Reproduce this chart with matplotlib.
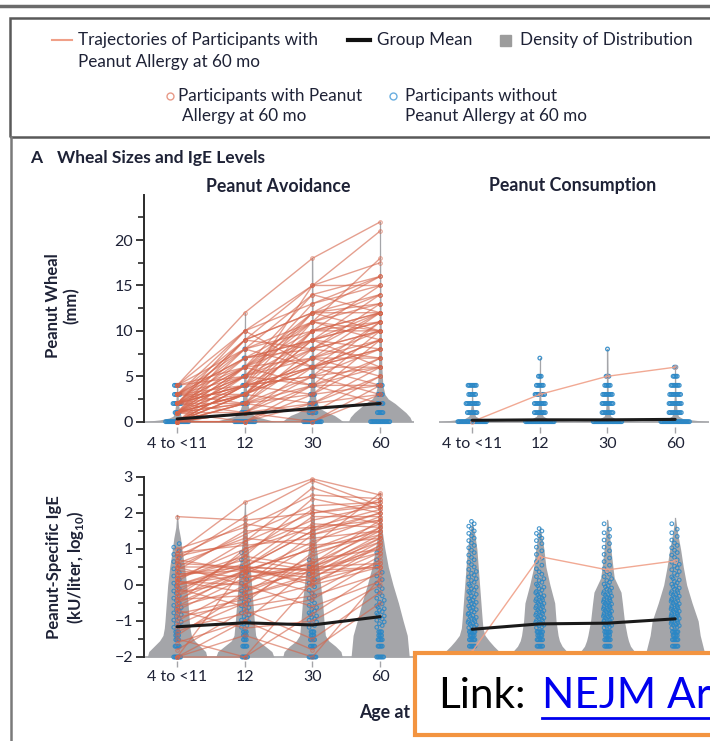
import matplotlib.pyplot as plt
import numpy as np
from matplotlib.patches import Rectangle
from matplotlib.lines import Line2D

plt.rcParams['font.family'] = ['Lato', 'DejaVu Sans']
plt.rcParams['mathtext.fontset'] = 'custom'
plt.rcParams['mathtext.rm'] = 'Lato'
plt.rcParams['mathtext.bf'] = 'Lato:bold'

# ---- data ----
visits = ['4 to <11', '12', '30', '60']

# wheal (mm) trajectories, allergic participants, avoidance group
wheal_avoid = [
    [4, 12, 18, 22], [2, 9, 15, 21], [3, 10, 15, 17.5], [1, 5, 11, 18],
    [2, 8, 14, 16], [3, 6, 12, 16], [0, 4, 15, 15], [4, 10, 13, 15],
    [1, 3, 10, 15], [2, 9, 12, 14], [0, 2, 8, 13], [3, 7, 11, 13],
    [1, 6, 9, 12], [2, 5, 12, 12], [0, 3, 7, 12], [4, 8, 10, 12],
    [1, 4, 6, 11], [2, 7, 9, 11], [0, 1, 5, 11], [3, 9, 8, 10],
    [1, 2, 7, 10], [2, 6, 10, 10], [0, 0, 4, 10], [3, 5, 8, 10],
    [1, 8, 11, 9], [2, 4, 6, 9], [0, 2, 3, 9], [4, 6, 7, 9],
    [1, 3, 9, 8], [2, 10, 6, 8], [0, 1, 6, 8], [3, 4, 5, 8],
    [1, 5, 7, 7], [2, 2, 4, 7], [0, 0, 3, 7], [1, 7, 8, 7],
    [3, 3, 6, 6], [0, 4, 5, 6], [2, 1, 2, 6], [1, 6, 4, 6],
    [4, 5, 9, 6], [0, 2, 1, 5], [2, 3, 7, 5], [1, 0, 2, 5],
    [3, 8, 6, 4], [0, 4, 3, 4], [1, 1, 0, 4], [2, 5, 4, 4],
    [0, 3, 2, 3], [1, 2, 5, 3], [0, 0, 0, 3], [2, 4, 12, 10],
    [1, 3, 11, 14], [0, 6, 14, 12], [3, 2, 10, 11], [0, 5, 13, 16],
    [1, 9, 12, 13], [2, 4, 8, 12], [0, 1, 4, 2], [1, 3, 6, 9],
    [2, 6, 11, 10], [0, 3, 9, 11], [1, 4, 10, 12], [3, 7, 9, 14],
]
wheal_cons = [[0, 3, 5, 6]]

# peanut-specific IgE (log10 kU/liter) trajectories
ige_avoid = [
    [1.9, 1.8, 2.0, 2.3], [0.9, 2.3, 2.95, 2.5], [0.7, 1.9, 2.9, 2.2],
    [1.0, 1.6, 2.5, 2.4], [0.5, 1.4, 2.2, 2.3], [0.8, 1.2, 2.7, 2.1],
    [0.2, 1.0, 1.8, 2.2], [-0.2, 0.8, 2.4, 2.0], [0.6, 0.5, 1.5, 2.0],
    [0.0, 0.6, 1.9, 1.9], [-0.5, 0.3, 1.2, 1.9], [0.4, 1.5, 1.6, 1.8],
    [-1.0, 0.0, 1.4, 1.8], [0.3, 0.4, 1.0, 1.7], [-0.3, 0.9, 2.1, 1.7],
    [-2.0, 0.5, 1.7, 1.6], [0.1, -0.2, 0.8, 1.6], [-0.7, 0.2, 0.6, 1.5],
    [0.9, 1.1, 1.3, 1.5], [-1.3, -0.5, 0.9, 1.4], [0.2, 0.7, 0.4, 1.4],
    [-0.4, -0.3, 0.3, 1.3], [0.5, 0.0, 1.1, 1.3], [-1.6, -1.0, 0.5, 1.2],
    [0.7, 0.4, 0.2, 1.2], [-0.1, 0.5, 0.0, 1.1], [-0.8, -0.4, 0.7, 1.0],
    [0.3, 0.5, 0.4, 1.0], [-2.0, -2.0, 0.1, 0.9], [-0.6, -0.1, 0.4, 0.9],
    [0.0, 0.3, -0.2, 0.8], [-1.2, -0.8, -0.4, 0.7], [0.4, 0.2, 0.5, 0.6],
    [-0.9, -0.5, 0.0, 0.5], [-0.3, 0.4, 0.3, 0.5], [-1.5, -2.0, -0.8, 0.4],
    [-0.1, -0.6, -0.3, 0.3], [-2.0, -1.4, -2.0, 0.2], [0.1, 0.0, -0.6, 0.1],
    [-0.7, -1.2, -1.0, 0.0], [-1.8, -0.7, -1.5, -0.2], [0.6, 1.3, 1.1, 2.55],
    [-0.5, 1.0, 1.6, 2.1], [-2.0, -1.0, -1.8, -0.5], [0.2, 0.8, 0.5, 1.6],
    [-0.2, 0.1, 0.6, 1.8], [0.8, 1.7, 1.4, 2.0], [-1.1, -0.3, 0.2, 1.1],
    [0.0, 0.5, 1.5, 2.4], [-0.4, 0.4, 0.1, 0.6], [0.5, 0.5, 0.4, 0.5],
    [-0.6, 0.4, 1.0, 1.5], [0.1, 1.2, 2.0, 2.2], [-1.4, -0.2, 0.5, 1.3],
]
ige_cons = [[-1.85, 0.79, 0.42, 0.67]]

# group means
wheal_mean_avoid = [0.3, 0.85, 1.45, 2.0]
wheal_mean_cons = [0.15, 0.2, 0.2, 0.25]
ige_mean_avoid = [-1.16, -1.05, -1.11, -0.88]
ige_mean_cons = [-1.23, -1.08, -1.06, -0.94]

# non-allergic participants: wheal counts at 0,1,2,... mm per visit
wheal_levels = [0, 1, 2, 3, 4, 5, 6, 7, 8]
wheal_counts_avoid = [
    [18, 4, 7, 5, 5, 0, 0, 0, 0],
    [16, 6, 5, 4, 4, 3, 2, 2, 1],
    [14, 6, 5, 4, 4, 3, 3, 2, 2],
    [15, 5, 5, 4, 4, 0, 0, 0, 0],
]
wheal_counts_cons = [
    [22, 8, 10, 6, 7, 0, 0, 0, 0],
    [22, 9, 9, 8, 6, 3, 0, 1, 0],
    [22, 9, 9, 8, 5, 3, 0, 0, 1],
    [22, 10, 10, 9, 7, 4, 2, 0, 0],
]

# non-allergic participants: IgE counts (detection-limit levels, then 0.2-wide bins)
ige_low = [-2.0, -1.7, -1.52, -1.4, -1.3]
ige_bins = [-1.1, -0.9, -0.7, -0.5, -0.3, -0.1, 0.1, 0.3, 0.5, 0.7, 0.9, 1.1, 1.3, 1.5, 1.7]
ige_counts_avoid = [
    [6, 4, 3, 3, 3, 4, 4, 4, 3, 3, 3, 2, 2, 2, 2, 2, 2, 0, 0, 0],
    [5, 4, 3, 3, 3, 4, 4, 4, 4, 3, 3, 2, 2, 1, 1, 1, 0, 0, 0, 0],
    [6, 4, 4, 3, 3, 4, 5, 4, 3, 3, 2, 2, 1, 1, 1, 0, 0, 0, 0, 0],
    [6, 4, 4, 3, 3, 4, 5, 5, 4, 3, 3, 2, 2, 1, 1, 1, 0, 0, 0, 0],
]
ige_counts_cons = [
    [6, 5, 5, 4, 5, 8, 7, 6, 6, 5, 5, 4, 4, 3, 3, 3, 3, 3, 3, 3],
    [6, 5, 5, 4, 5, 8, 8, 8, 8, 7, 5, 4, 3, 2, 2, 2, 2, 3, 3, 0],
    [6, 5, 5, 4, 5, 9, 10, 10, 10, 8, 6, 4, 3, 2, 2, 2, 2, 2, 2, 1],
    [6, 5, 5, 4, 5, 10, 10, 10, 9, 8, 6, 5, 4, 4, 3, 3, 3, 2, 2, 1],
]

# density outlines (value, half-width in visit spacing)
viol_wheal_avoid = [
    ([0, 0.2, 0.4, 0.6, 1, 2, 4], [0.50, 0.25, 0.12, 0.06, 0.04, 0.02, 0.005]),
    ([0, 0.3, 0.6, 1.0, 2, 4, 8, 12], [0.45, 0.30, 0.15, 0.08, 0.04, 0.02, 0.01, 0.004]),
    ([0, 0.3, 0.7, 1.0, 1.5, 2.5, 4, 8, 12, 18], [0.45, 0.40, 0.32, 0.22, 0.10, 0.05, 0.03, 0.015, 0.008, 0.003]),
    ([0, 0.5, 1.0, 1.5, 2.0, 2.5, 3.0, 4.0, 6, 10, 15, 22], [0.47, 0.44, 0.38, 0.30, 0.22, 0.12, 0.07, 0.04, 0.025, 0.015, 0.008, 0.003]),
]
viol_wheal_cons = [
    ([0, 0.15, 0.3, 0.6, 1.0, 2, 4], [0.50, 0.30, 0.12, 0.05, 0.03, 0.01, 0.004]),
    ([0, 0.15, 0.3, 0.6, 1.0, 3, 7], [0.50, 0.30, 0.12, 0.05, 0.03, 0.01, 0.004]),
    ([0, 0.15, 0.3, 0.6, 1.0, 3, 8], [0.50, 0.30, 0.12, 0.05, 0.03, 0.01, 0.004]),
    ([0, 0.15, 0.3, 0.6, 1.0, 3, 6], [0.50, 0.30, 0.12, 0.05, 0.03, 0.01, 0.004]),
]
viol_ige_avoid = [
    ([-2, -1.85, -1.7, -1.55, -1.4, -1.2, -1.0, -0.5, 0, 0.5, 1.0, 1.3, 1.6, 1.95],
     [0.44, 0.42, 0.34, 0.26, 0.21, 0.19, 0.18, 0.16, 0.14, 0.11, 0.07, 0.05, 0.02, 0.004]),
    ([-2, -1.85, -1.7, -1.55, -1.4, -1.2, -1.0, -0.5, 0, 0.5, 1.0, 1.5, 2.0, 2.3],
     [0.43, 0.40, 0.30, 0.20, 0.16, 0.15, 0.14, 0.12, 0.10, 0.08, 0.05, 0.03, 0.012, 0.004]),
    ([-2, -1.85, -1.7, -1.55, -1.4, -1.2, -1.0, -0.5, 0, 0.5, 1.0, 1.5, 2.0, 2.5, 2.95],
     [0.44, 0.42, 0.34, 0.24, 0.19, 0.18, 0.17, 0.15, 0.12, 0.09, 0.06, 0.04, 0.02, 0.01, 0.004]),
    ([-2, -1.8, -1.6, -1.4, -1.0, -0.5, 0, 0.5, 1.0, 1.5, 2.0, 2.55],
     [0.43, 0.42, 0.41, 0.40, 0.34, 0.27, 0.19, 0.12, 0.07, 0.03, 0.012, 0.004]),
]
viol_ige_cons = [
    ([-2, -1.85, -1.7, -1.55, -1.4, -1.2, -1.0, -0.5, 0, 0.5, 1.0, 1.4, 1.75],
     [0.44, 0.40, 0.32, 0.25, 0.19, 0.16, 0.15, 0.13, 0.11, 0.09, 0.07, 0.04, 0.005]),
    ([-2, -1.85, -1.7, -1.55, -1.4, -1.0, -0.5, 0, 0.5, 1.0, 1.3, 1.58],
     [0.44, 0.40, 0.33, 0.29, 0.27, 0.24, 0.22, 0.15, 0.09, 0.06, 0.035, 0.005]),
    ([-2, -1.85, -1.7, -1.55, -1.4, -1.0, -0.5, -0.2, 0.0, 0.2, 0.5, 1.0, 1.4, 1.8],
     [0.44, 0.40, 0.34, 0.31, 0.29, 0.25, 0.22, 0.20, 0.15, 0.10, 0.08, 0.05, 0.03, 0.005]),
    ([-2, -1.85, -1.7, -1.55, -1.4, -1.0, -0.5, 0, 0.5, 1.0, 1.4, 1.85],
     [0.45, 0.43, 0.41, 0.39, 0.37, 0.34, 0.25, 0.17, 0.12, 0.08, 0.04, 0.005]),
]

# ---- styling ----
TXT = '#1e2236'
GRAY = '#a4a5a9'
RED = '#d5654b'
RED_LIGHT = '#f0a088'
BLUE = '#2a87c6'

W, H = 710, 741
fig = plt.figure(figsize=(W / 100, H / 100), dpi=100)


def box(x0, y0, x1, y1):
    # pixel box, top-left origin -> figure rect
    return [x0 / W, 1 - y1 / H, (x1 - x0) / W, (y1 - y0) / H]


def ftext(x, y, s, **kw):
    kw.setdefault('color', TXT)
    return fig.text(x / W, 1 - y / H, s, **kw)


ax_wa = fig.add_axes(box(144, 194.7, 414, 427.1))
ax_wc = fig.add_axes(box(439, 194.7, 709, 427.1))
ax_ia = fig.add_axes(box(144, 475.2, 414, 660.6))
ax_ic = fig.add_axes(box(439, 475.2, 709, 660.6))

xs = np.arange(len(visits))


def draw_violins(ax, viols):
    for x, (yv, wv) in zip(xs, viols):
        yv = np.array(yv, float)
        wv = np.array(wv, float)
        ax.fill_betweenx(yv, x - wv, x + wv, color=GRAY, lw=0, zorder=1)
        ax.plot([x, x], [yv[0], yv[-1]], color=GRAY, lw=0.9, zorder=1)


def draw_dashes(ax, x, level, n, step=0.02):
    if n == 0:
        return
    px = x + (np.arange(n) - (n - 1) / 2) * step
    ax.scatter(px, np.full(n, level), s=7, facecolors='none', edgecolors=BLUE,
               linewidths=0.9, alpha=0.9, zorder=3)


def draw_bin(ax, x, center, n):
    if n == 0:
        return
    pattern = np.array([-0.05, 0.03, -0.01, 0.06, -0.03, 0.01, -0.06, 0.04])
    i = np.arange(n)
    px = x + pattern[i % len(pattern)]
    py = center - 0.1 + 0.2 * (i + 0.5) / n
    ax.scatter(px, py, s=7, facecolors='none', edgecolors=BLUE,
               linewidths=0.8, alpha=0.85, zorder=3)


def draw_traj(ax, trajs, color, alpha):
    for t in trajs:
        ax.plot(xs, t, color=color, lw=1.0, alpha=alpha, zorder=4,
                marker='o', ms=2.6, mfc='none', mec=color, mew=0.7)


# wheal panels
for ax, viols, counts, trajs, mean, col, al in [
        (ax_wa, viol_wheal_avoid, wheal_counts_avoid, wheal_avoid, wheal_mean_avoid, RED, 0.62),
        (ax_wc, viol_wheal_cons, wheal_counts_cons, wheal_cons, wheal_mean_cons, RED_LIGHT, 0.9)]:
    ax.axhline(0, color=GRAY, lw=1.2, zorder=1)
    draw_violins(ax, viols)
    for x, cnt in zip(xs, counts):
        for lev, n in zip(wheal_levels, cnt):
            draw_dashes(ax, x, lev, n)
    draw_traj(ax, trajs, col, al)
    ax.plot(xs, mean, color='#1a1a1a', lw=2.2, zorder=6, solid_capstyle='round')
    ax.set_xlim(-0.49, 3.5)
    ax.set_ylim(-0.6, 25)

# IgE panels
for ax, viols, counts, trajs, mean, col, al in [
        (ax_ia, viol_ige_avoid, ige_counts_avoid, ige_avoid, ige_mean_avoid, RED, 0.62),
        (ax_ic, viol_ige_cons, ige_counts_cons, ige_cons, ige_mean_cons, RED_LIGHT, 0.9)]:
    ax.axhline(-2, color=GRAY, lw=1.2, zorder=1)
    draw_violins(ax, viols)
    for x, cnt in zip(xs, counts):
        for lev, n in zip(ige_low, cnt[:len(ige_low)]):
            draw_dashes(ax, x, lev, n)
        for c, n in zip(ige_bins, cnt[len(ige_low):]):
            draw_bin(ax, x, c, n)
    draw_traj(ax, trajs, col, al)
    ax.plot(xs, mean, color='#1a1a1a', lw=2.2, zorder=6, solid_capstyle='round')
    ax.set_xlim(-0.49, 3.5)
    ax.set_ylim(-2.1, 3.05)

for ax in [ax_wa, ax_wc, ax_ia, ax_ic]:
    for s in ['top', 'right', 'bottom']:
        ax.spines[s].set_visible(False)
    ax.set_facecolor('none')
    ax.set_xticks(xs)
    ax.set_xticklabels(visits)
    ax.tick_params(axis='x', length=4, width=1, color=GRAY, pad=3,
                   labelsize=11.5, labelcolor=TXT)
    ax.spines['left'].set_color('#2a2a2a')
    ax.spines['left'].set_linewidth(1.4)

# the lower-right tick labels sit under the link box in the original
ax_ic.set_xticklabels([])

for ax in [ax_wc, ax_ic]:
    ax.spines['left'].set_visible(False)
    ax.set_yticks([])

ax_wa.spines['left'].set_bounds(0, 25)
ax_wa.set_yticks([0, 5, 10, 15, 20])
ax_wa.set_yticks([2.5, 7.5, 12.5, 17.5, 22.5], minor=True)
ax_ia.spines['left'].set_bounds(-2, 3)
ax_ia.set_yticks([-2, -1, 0, 1, 2, 3])
ax_ia.set_yticks([-1.5, -0.5, 0.5, 1.5, 2.5], minor=True)
for ax in [ax_wa, ax_ia]:
    ax.tick_params(axis='y', which='major', length=6, width=1.3, color='#2a2a2a',
                   labelsize=11.5, labelcolor=TXT, pad=2)
    ax.tick_params(axis='y', which='minor', length=4, width=1.2, color='#2a2a2a')

ftext(62, 306, 'Peanut Wheal\n(mm)', fontsize=12, fontweight='bold',
      rotation=90, ha='center', va='center', linespacing=1.15)
ftext(66, 567, 'Peanut-Specific IgE\n(kU/liter, log$_{\\mathbf{10}}$)', fontsize=12,
      fontweight='bold', rotation=90, ha='center', va='center', linespacing=1.15)

# frames
fig.add_artist(Line2D([0, 1], [1 - 6 / H] * 2, color='#6b6b6b', lw=2.5))
fig.add_artist(Rectangle((10 / W, 1 - 137 / H), 720 / W, 119 / H, fill=False,
                         edgecolor='#595959', lw=1.8, transform=fig.transFigure))
fig.add_artist(Line2D([11 / W] * 2, [1 - 137 / H, 0], color='#7a7a7a', lw=1.8))

# legend
LEG = 12.3
fig.add_artist(Line2D([52 / W, 72 / W], [1 - 40 / H] * 2, color=RED_LIGHT, lw=1.5))
ftext(78, 40, 'Trajectories of Participants with', fontsize=LEG, va='center')
ftext(78, 62, 'Peanut Allergy at 60 mo', fontsize=LEG, va='center')
fig.add_artist(Line2D([348 / W, 370 / W], [1 - 40 / H] * 2, color='#111111', lw=3))
ftext(377, 40, 'Group Mean', fontsize=LEG, va='center')
fig.add_artist(Rectangle((500 / W, 1 - 46 / H), 11 / W, 11 / H, color='#9c9c9c',
                         transform=fig.transFigure))
ftext(520, 40, 'Density of Distribution', fontsize=LEG, va='center')
fig.add_artist(Line2D([170 / W], [1 - 96 / H], marker='o', ms=5, mfc='none',
                      mec='#e89a88', mew=1))
ftext(178, 96, 'Participants with Peanut', fontsize=LEG, va='center')
ftext(182, 116, 'Allergy at 60 mo', fontsize=LEG, va='center')
fig.add_artist(Line2D([393 / W], [1 - 96 / H], marker='o', ms=5, mfc='none',
                      mec='#6aaee0', mew=1))
ftext(405, 96, 'Participants without', fontsize=LEG, va='center')
ftext(405, 116, 'Peanut Allergy at 60 mo', fontsize=LEG, va='center')

# titles
ftext(30, 158, 'A', fontsize=12.5, fontweight='bold', va='center')
ftext(57, 158, 'Wheal Sizes and IgE Levels', fontsize=12.5, fontweight='bold', va='center')
ftext(278, 186, 'Peanut Avoidance', fontsize=12.8, fontweight='bold', va='center', ha='center')
ftext(573, 186, 'Peanut Consumption', fontsize=12.8, fontweight='bold', va='center', ha='center')
ftext(424, 712, 'Age at Visit (mo)', fontsize=12.8, fontweight='bold', va='center', ha='center')

# link box
fig.add_artist(Rectangle((415 / W, 1 - 735 / H), 320 / W, 82 / H, facecolor='white',
                         edgecolor='#f39440', lw=3, transform=fig.transFigure, zorder=10))
ftext(438, 708, 'Link:', fontsize=30.5, va='baseline', color='black', zorder=11)
ftext(542, 708, 'NEJM Article', fontsize=30.5, va='baseline', color='#0000ee', zorder=11)
fig.add_artist(Line2D([542 / W, 1], [1 - 718 / H] * 2, color='#0000ee', lw=2, zorder=11))

fig.savefig('out.png', dpi=100)
